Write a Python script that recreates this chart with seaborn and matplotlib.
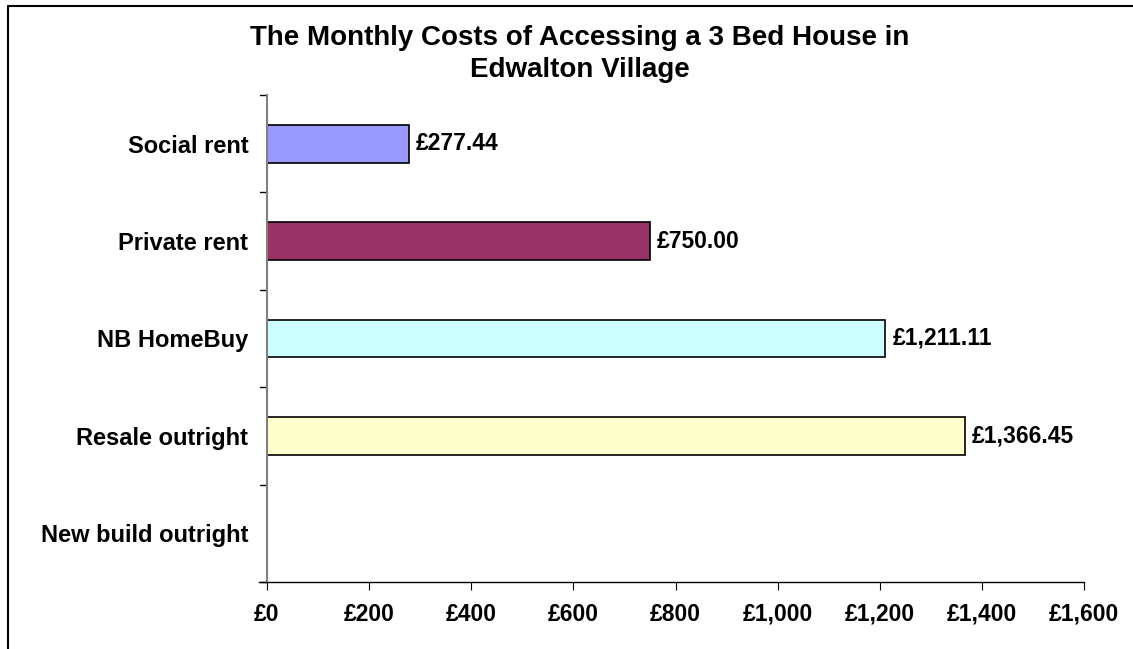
import matplotlib
matplotlib.use("Agg")
import matplotlib.pyplot as plt
from matplotlib.lines import Line2D
import pandas as pd
import seaborn as sns

# data
categories = ["Social rent", "Private rent", "NB HomeBuy", "Resale outright", "New build outright"]
costs = [277.44, 750.00, 1211.11, 1366.45, None]
bar_colors = ["#9999FF", "#993366", "#CCFFFF", "#FFFFCC", "#FFFFFF"]
x_ticks = [0, 200, 400, 600, 800, 1000, 1200, 1400, 1600]
title = "The Monthly Costs of Accessing a 3 Bed House in\nEdwalton Village"

df = pd.DataFrame({"category": categories, "cost": costs})

sns.set_style("white")
plt.rcParams["font.family"] = ["Liberation Sans", "DejaVu Sans"]
plt.rcParams["text.color"] = "black"
plt.rcParams["xtick.color"] = "black"
plt.rcParams["ytick.color"] = "black"

fig = plt.figure(figsize=(11.33, 6.49), dpi=100)
ax = fig.add_axes([267 / 1133, 1 - 582 / 649, (1084 - 267) / 1133, (582 - 95) / 649])

sns.barplot(data=df.dropna(), x="cost", y="category", order=categories,
            hue="category", palette=dict(zip(categories, bar_colors)),
            saturation=1, legend=False, width=0.39,
            edgecolor="black", linewidth=1.2, ax=ax)

for i, v in enumerate(costs):
    if v is None:
        continue
    ax.text(v + 14, i, "£{:,.2f}".format(v), va="center", ha="left",
            fontsize=16.5, fontweight="bold")

ax.set_xlim(0, 1600)
ax.set_ylim(len(categories) - 0.5, -0.5)
ax.set_xticks(x_ticks)
ax.set_xticklabels(["£{:,}".format(t) for t in x_ticks], fontsize=16.5, fontweight="bold")
ax.set_yticks(range(len(categories)))
ax.set_yticklabels(categories, fontsize=17, fontweight="bold")
ax.set_xlabel("")
ax.set_ylabel("")

# ticks between categories on y axis, none at labels
ax.tick_params(axis="y", length=0, pad=13.5)
ax.tick_params(axis="x", length=6, direction="out", color="black", pad=9, bottom=True)
for b in [i - 0.5 for i in range(len(categories) + 1)]:
    ax.add_line(Line2D([-0.009, 0], [b, b], transform=ax.get_yaxis_transform(),
                       color="black", lw=1, clip_on=False))

for s in ["top", "right"]:
    ax.spines[s].set_visible(False)
ax.spines["left"].set_color("#808080")
ax.spines["left"].set_linewidth(1.5)
ax.spines["bottom"].set_color("black")
ax.spines["bottom"].set_linewidth(1)
ax.spines["bottom"].set_bounds(-16, 1600)

fig.text(580 / 1133, 1 - 54 / 649, title, ha="center", va="center",
         fontsize=20, fontweight="bold", linespacing=1.3)

# outer frame (top and left edges visible)
fig.add_artist(Line2D([8 / 1133, 1.0], [1 - 6 / 649, 1 - 6 / 649],
                      transform=fig.transFigure, color="black", lw=1.5))
fig.add_artist(Line2D([8 / 1133, 8 / 1133], [0, 1 - 6 / 649],
                      transform=fig.transFigure, color="black", lw=1.5))

fig.savefig("out.png", dpi=100)
